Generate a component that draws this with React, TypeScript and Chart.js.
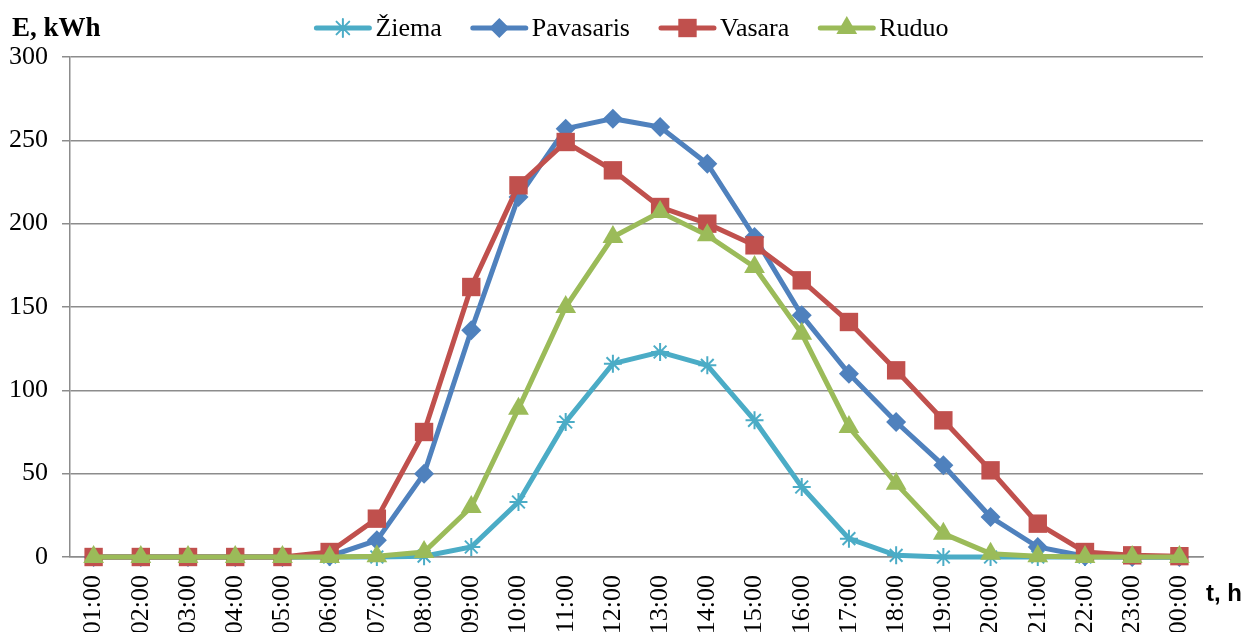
import React, { useEffect, useRef } from 'react';
import { Chart, registerables } from 'chart.js';

Chart.register(...registerables);

const hours: string[] = ['01:00','02:00','03:00','04:00','05:00','06:00','07:00','08:00','09:00','10:00','11:00','12:00','13:00','14:00','15:00','16:00','17:00','18:00','19:00','20:00','21:00','22:00','23:00','00:00'];
const ziema: number[] = [0,0,0,0,0,0,0,0.5,6,33,81,116,123,115,82,42,11,1,0,0,0,0,0,0];
const pavasaris: number[] = [0,0,0,0,0,0.5,10,50,136,216,257,263,258,236,192,145,110,81,55,24,6,0.5,0,0];
const vasara: number[] = [0,0,0,0,0,3,23,75,162,223,249,232,210,200,187,166,141,112,82,52,20,3,1,0.5];
const ruduo: number[] = [0,0,0,0,0,0,0.5,3,30,89,150,192,207,193,174,134,78,44,14,2,0.5,0,0,0];
const yTicks: number[] = [0, 50, 100, 150, 200, 250, 300];

const seriesNames = ['Žiema', 'Pavasaris', 'Vasara', 'Ruduo'];
const seriesColors = ['#4BACC6', '#4F81BD', '#C0504D', '#9BBB59'];
const seriesMarkers = ['star', 'rectRot', 'rect', 'triangle'];
const seriesRadius = [9, 10, 13, 12];

function drawMarker(ctx: CanvasRenderingContext2D, style: string, x: number, y: number, r: number, color: string) {
  ctx.save();
  ctx.fillStyle = color;
  ctx.strokeStyle = color;
  ctx.beginPath();
  if (style === 'star') {
    ctx.lineWidth = 2;
    for (let i = 0; i < 4; i++) {
      const a = (i * Math.PI) / 4;
      ctx.moveTo(x + Math.cos(a) * r, y + Math.sin(a) * r);
      ctx.lineTo(x - Math.cos(a) * r, y - Math.sin(a) * r);
    }
    ctx.stroke();
  } else if (style === 'rectRot') {
    ctx.moveTo(x, y - r);
    ctx.lineTo(x + r, y);
    ctx.lineTo(x, y + r);
    ctx.lineTo(x - r, y);
    ctx.closePath();
    ctx.fill();
  } else if (style === 'rect') {
    const s = r * Math.SQRT1_2;
    ctx.rect(x - s, y - s, 2 * s, 2 * s);
    ctx.fill();
  } else {
    const w = r * Math.sqrt(3) / 2;
    ctx.moveTo(x, y - r);
    ctx.lineTo(x + w, y + r / 2);
    ctx.lineTo(x - w, y + r / 2);
    ctx.closePath();
    ctx.fill();
  }
  ctx.restore();
}

const legendPlugin = {
  id: 'customLegend',
  afterDraw(chart: any) {
    const ctx: CanvasRenderingContext2D = chart.ctx;
    ctx.save();
    ctx.font = '26px "Liberation Serif", "Times New Roman", serif';
    ctx.textBaseline = 'middle';
    ctx.textAlign = 'left';
    const lineLen = 57;
    const gap = 4;
    const itemGap = 29;
    const widths = seriesNames.map((n) => lineLen + gap + ctx.measureText(n).width);
    const total = widths.reduce((a, b) => a + b, 0) + itemGap * (seriesNames.length - 1);
    const cx = (chart.chartArea.left + chart.chartArea.right) / 2 - 5;
    let x = cx - total / 2;
    const y = 28;
    seriesNames.forEach((name, i) => {
      ctx.strokeStyle = seriesColors[i];
      ctx.lineWidth = 5;
      ctx.lineCap = 'round';
      ctx.beginPath();
      ctx.moveTo(x + 2, y);
      ctx.lineTo(x + lineLen - 2, y);
      ctx.stroke();
      drawMarker(ctx, seriesMarkers[i], x + lineLen / 2, y, seriesRadius[i], seriesColors[i]);
      ctx.fillStyle = '#000';
      ctx.fillText(name, x + lineLen + gap, y + 1);
      x += widths[i] + itemGap;
    });
    // axis titles
    ctx.font = 'bold 27px "Liberation Serif", "Times New Roman", serif';
    ctx.fillText('E, kWh', 12, 29);
    ctx.font = 'bold 24px "Liberation Sans", Arial, sans-serif';
    ctx.fillText('t, h', 1206, 594);
    ctx.restore();
  },
};

export default function App() {
  const ref = useRef<HTMLCanvasElement | null>(null);
  useEffect(() => {
    if (!ref.current) return;
    const series = [ziema, pavasaris, vasara, ruduo];
    const chart = new Chart(ref.current, {
      type: 'line',
      data: {
        labels: hours,
        datasets: series.map((d, i) => ({
          label: seriesNames[i],
          data: d,
          borderColor: seriesColors[i],
          backgroundColor: seriesColors[i],
          borderWidth: 5,
          pointStyle: seriesMarkers[i] as any,
          pointRadius: seriesRadius[i],
          pointBackgroundColor: seriesColors[i],
          pointBorderColor: seriesColors[i],
          pointBorderWidth: i === 0 ? 2 : 0,
          tension: 0,
          clip: false as any,
          order: 3 - i,
        })),
      },
      options: {
        responsive: false,
        animation: false,
        devicePixelRatio: 1,
        layout: { padding: { top: 57, left: 0, right: 40, bottom: 0 } },
        plugins: { legend: { display: false }, tooltip: { enabled: false }, title: { display: false } },
        scales: {
          x: {
            offset: true,
            grid: { display: false, drawTicks: false },
            border: { display: true, color: '#8c8c8c', width: 1.5 },
            ticks: {
              autoSkip: false,
              maxRotation: 90,
              minRotation: 90,
              padding: 18,
              color: '#000',
              font: { family: '"Liberation Serif", "Times New Roman", serif', size: 26 },
            },
            afterFit: (s: any) => { s.height = 75; },
          },
          y: {
            min: 0,
            max: 300,
            afterBuildTicks: (s: any) => { s.ticks = yTicks.map((v) => ({ value: v })); },
            grid: { color: '#8c8c8c', lineWidth: 1.5, tickLength: 8, drawTicks: true },
            border: { display: true, color: '#8c8c8c', width: 1.5 },
            ticks: {
              padding: 14,
              color: '#000',
              font: { family: '"Liberation Serif", "Times New Roman", serif', size: 26 },
            },
            afterFit: (s: any) => { s.width = 70; },
          },
        },
      },
      plugins: [legendPlugin],
    });
    return () => chart.destroy();
  }, []);
  return (
    <canvas
      ref={ref}
      width={1243}
      height={632}
      style={{ position: 'absolute', left: 0, top: 0, width: 1243, height: 632, display: 'block' }}
    />
  );
}
